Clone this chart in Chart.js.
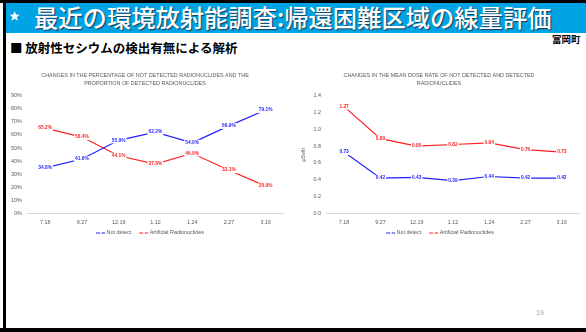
<!DOCTYPE html>
<html><head><meta charset="utf-8">
<script src="https://cdn.jsdelivr.net/npm/chart.js@4.4.1/dist/chart.umd.min.js"></script>
<style>
html,body{margin:0;padding:0;background:#fff;}
#page{position:relative;width:586px;height:332px;overflow:hidden;background:#fff;font-family:"Noto Sans CJK JP",sans-serif;}
#topline{position:absolute;left:0;top:0;width:586px;height:3px;background:#000;}
#leftline{position:absolute;left:3px;top:0;width:3px;height:332px;background:#000;}
#bottomline{position:absolute;left:0;top:328px;width:586px;height:4px;background:#000;}
#band{position:absolute;left:6px;top:3px;width:580px;height:30px;background:#00a3e4;}
#star{position:absolute;left:9px;top:9px;color:#fff;font-size:11px;line-height:12px;}
#title{position:absolute;left:34px;top:0px;color:#fff;font-size:24.3px;line-height:34px;font-weight:500;white-space:nowrap;text-shadow:1px 1px 1px #1a3a5a;}
#sub{position:absolute;left:10px;top:39px;font-size:12.5px;font-weight:700;line-height:18px;color:#000;white-space:nowrap;}
#town{position:absolute;left:552px;top:33px;font-size:9.5px;font-weight:700;line-height:12px;color:#000;}
#pg{position:absolute;left:536px;top:309px;font-size:7px;color:#a6a6a6;font-family:"Liberation Sans",sans-serif;}
canvas{position:absolute;}
#c1{left:5px;top:66px;}
#c2{left:296px;top:66px;}
</style></head>
<body>
<div id="page">
<div id="band"></div>
<div id="topline"></div>
<div id="leftline"></div>
<div id="bottomline"></div>
<div id="star">★</div>
<div id="title">最近の環境放射能調査:帰還困難区域の線量評価</div>
<div id="sub">■ 放射性セシウムの検出有無による解析</div>
<div id="town">富岡町</div>
<div id="pg">19</div>
<canvas id="c1" width="290" height="180"></canvas>
<canvas id="c2" width="288" height="180"></canvas>
</div>
<script>
const categories = ["7.18","9.27","12.19","1.12","1.24","2.27","3.16"];
const pctNotDetect = [34.8,41.6,55.9,62.2,54.0,66.9,79.1];
const pctArtificial = [65.2,58.4,44.1,37.8,46.0,33.1,20.9];
const doseNotDetect = [0.73,0.42,0.43,0.39,0.44,0.42,0.42];
const doseArtificial = [1.27,0.89,0.80,0.82,0.84,0.76,0.73];
const seriesNames = ["Not detect","Artificial Radionuclides"];
const title1 = ["CHANGES IN THE PERCENTAGE OF NOT DETECTED RADIONUCLIDES AND THE","PROPORTION OF DETECTED RADIONUCLIDES"];
const title2 = ["CHANGES IN THE MEAN DOSE RATE OF NOT DETECTED AND DETECTED","RADIONUCLIDES"];

const BLUE = "#1f1fff", RED = "#ff1f1f", GREY = "#595959";
const FONT = "'Liberation Sans', sans-serif";

const labelPlugin = {
  id: 'vlabels',
  afterDatasetsDraw(chart, args, opts) {
    const ctx = chart.ctx;
    ctx.save();
    ctx.font = "bold 4.8px " + FONT;
    ctx.textAlign = 'center';
    ctx.textBaseline = 'middle';
    chart.data.datasets.forEach((ds, i) => {
      const meta = chart.getDatasetMeta(i);
      meta.data.forEach((pt, j) => {
        const txt = opts.fmt(ds.data[j]);
        const w = ctx.measureText(txt).width;
        ctx.fillStyle = '#fff';
        ctx.fillRect(pt.x - w/2 - 1, pt.y - 3, w + 2, 6);
        ctx.fillStyle = ds.borderColor;
        ctx.fillText(txt, pt.x, pt.y);
      });
    });
    ctx.restore();
  }
};

const legendPlugin = {
  id: 'mylegend',
  afterDraw(chart, args, opts) {
    const ctx = chart.ctx;
    ctx.save();
    ctx.font = "5.4px " + FONT;
    ctx.textBaseline = 'middle';
    ctx.textAlign = 'left';
    const sw = 9, gap = 1.5, itemGap = 8;
    const items = chart.data.datasets.map(ds => ({t: ds.label, c: ds.borderColor, w: ctx.measureText(ds.label).width}));
    const total = items.reduce((s, it) => s + sw + gap + it.w, 0) + itemGap * (items.length - 1);
    let x = chart.width / 2 - total / 2;
    const y = opts.y;
    items.forEach(it => {
      ctx.strokeStyle = it.c;
      ctx.lineWidth = 1.2;
      ctx.setLineDash([4, 1.5]);
      ctx.beginPath(); ctx.moveTo(x, y); ctx.lineTo(x + sw, y); ctx.stroke();
      ctx.setLineDash([]);
      ctx.fillStyle = GREY;
      ctx.fillText(it.t, x + sw + gap, y);
      x += sw + gap + it.w + itemGap;
    });
    ctx.restore();
  }
};

function makeChart(id, d1, d2, titleLines, yOpts, fmt, pad) {
  return new Chart(document.getElementById(id), {
    type: 'line',
    data: {
      labels: categories,
      datasets: [
        {label: seriesNames[0], data: d1, borderColor: BLUE, backgroundColor: BLUE, borderWidth: 1.2, pointRadius: 0, tension: 0},
        {label: seriesNames[1], data: d2, borderColor: RED, backgroundColor: RED, borderWidth: 1.2, pointRadius: 0, tension: 0}
      ]
    },
    options: {
      responsive: false,
      animation: false,
      devicePixelRatio: 1,
      layout: {padding: pad},
      plugins: {
        vlabels: {fmt: fmt},
        mylegend: {y: 167},
        tooltip: {enabled: false},
        legend: {display: false},
        title: {display: true, text: titleLines, color: GREY, font: {family: FONT, size: 5.4, weight: 'normal', lineHeight: 1.45}, padding: {top: 6, bottom: 8}}
      },
      scales: {
        x: {
          offset: true,
          grid: {display: false, drawTicks: false},
          border: {display: false},
          ticks: {color: GREY, font: {family: FONT, size: 5.4}, padding: 6, maxRotation: 0}
        },
        y: Object.assign({
          grid: {drawTicks: false, color: (c) => c.tick && c.tick.value === 0 ? '#d9d9d9' : 'rgba(0,0,0,0)', lineWidth: 1},
          border: {display: false}
        }, yOpts)
      }
    },
    plugins: [labelPlugin, legendPlugin]
  });
}

makeChart('c1', pctNotDetect, pctArtificial, title1, {
  min: 0, max: 90,
  ticks: {stepSize: 10, color: GREY, font: {family: FONT, size: 5.4}, padding: 5, callback: v => v + '%'}
}, v => v.toFixed(1) + '%', {left: 1, right: 11, top: 0, bottom: 14});

makeChart('c2', doseNotDetect, doseArtificial, title2, {
  min: 0, max: 1.4,
  title: {display: true, text: 'μSv/h', color: GREY, font: {family: FONT, size: 5.4}, padding: 2},
  ticks: {stepSize: 0.2, color: GREY, font: {family: FONT, size: 5.4}, padding: 5, callback: v => v.toFixed(1)}
}, v => v.toFixed(2), {left: 2, right: 4, top: 0, bottom: 14});
</script>
</body></html>
